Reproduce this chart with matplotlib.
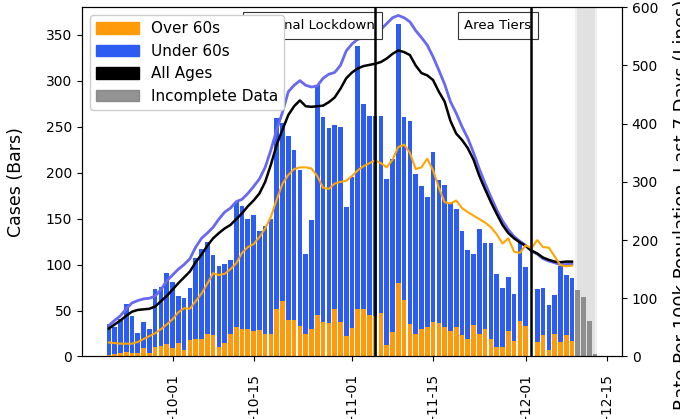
import numpy as np
import pandas as pd
import matplotlib
matplotlib.use("Agg")
import matplotlib.pyplot as plt
import matplotlib.dates as mdates
from matplotlib.patches import Patch

# daily cases by specimen date, 2020-09-20 .. 2020-12-09 (complete)
dates = pd.date_range("2020-09-20", "2020-12-09")
over60 = [2, 3, 4, 5, 4, 4, 9, 4, 10, 11, 14, 9, 15, 7, 18, 19, 19, 24, 23, 10,
          15, 24, 32, 30, 30, 28, 29, 25, 24, 52, 60, 40, 40, 33, 24, 30, 45, 37, 36, 52,
          38, 22, 31, 52, 52, 45, 44, 47, 13, 27, 80, 62, 35, 24, 30, 32, 37, 36, 32, 28,
          32, 23, 19, 34, 25, 30, 19, 10, 10, 28, 17, 39, 33, 0, 16, 23, 7, 25, 16, 23,
          17]
under60 = [33, 29, 37, 52, 40, 22, 29, 26, 63, 65, 77, 72, 51, 57, 57, 88, 98, 101, 87, 88,
           86, 81, 136, 134, 120, 126, 108, 117, 126, 208, 194, 200, 185, 170, 88, 118, 250, 224, 213, 200,
           212, 141, 164, 286, 223, 217, 218, 215, 180, 188, 282, 199, 221, 175, 155, 142, 185, 156, 155, 139,
           128, 114, 97, 78, 114, 93, 105, 80, 65, 59, 51, 86, 64, 0, 57, 52, 49, 42, 82, 66,
           68]

# last days, not yet complete
incomplete_dates = pd.date_range("2020-12-10", "2020-12-13")
incomplete = [72, 65, 39, 3]

# rate per 100k, last 7 days
rate_all = [48, 55, 62, 70, 77, 80, 81, 82, 86, 95, 104, 115, 126, 136, 146, 162, 175, 190, 203, 212,
            220, 226, 236, 246, 258, 268, 280, 300, 330, 364, 390, 415, 430, 440, 430, 429, 430, 431, 437, 445,
            460, 478, 488, 495, 499, 501, 503, 506, 512, 520, 526, 523, 518, 500, 487, 483, 475, 455, 438, 405,
            383, 372, 358, 338, 310, 287, 265, 245, 226, 212, 203, 196, 190, 182, 177, 170, 166, 163, 162, 163,
            163]
rate_under60 = [53, 62, 70, 82, 92, 96, 99, 100, 104, 115, 130, 140, 150, 158, 168, 188, 203, 212, 222, 236,
                248, 255, 266, 270, 280, 292, 305, 325, 355, 390, 420, 455, 466, 474, 466, 463, 465, 478, 485, 488,
                500, 525, 537, 545, 548, 551, 555, 562, 572, 582, 586, 582, 575, 560, 548, 535, 515, 492, 468, 438,
                418, 395, 375, 350, 322, 297, 274, 252, 233, 218, 206, 198, 191, 181, 176, 168, 164, 161, 158, 158,
                159]
rate_over60 = [24, 23, 22, 22, 22, 25, 30, 35, 40, 47, 55, 64, 76, 83, 82, 95, 108, 125, 143, 140,
               142, 150, 160, 178, 188, 193, 205, 220, 240, 270, 297, 312, 322, 325, 325, 323, 310, 290, 288, 297,
               300, 302, 310, 320, 327, 332, 337, 332, 325, 338, 360, 364, 350, 322, 325, 340, 320, 290, 265, 263,
               268, 255, 248, 242, 236, 230, 222, 210, 194, 203, 180, 178, 191, 186, 200, 188, 187, 172, 157, 155,
               156]

events = {"National Lockdown": "2020-11-05", "Area Tiers": "2020-12-02"}

ORANGE = "#ff9a0a"
BLUE = "#2c5cf2"

fig = plt.figure(figsize=(6.8, 4.19), dpi=100)
ax = fig.add_axes([0.1206, 0.1492, 0.7941, 0.8334])
ax2 = ax.twinx()

start = pd.Timestamp("2020-09-20")
day = lambda k: mdates.date2num(start + pd.Timedelta(days=k))

# incomplete data shading
ax.axvspan(day(80.45), day(84.4), color="grey", alpha=0.12, lw=0, zorder=0)
ax.axvspan(day(80.9), day(83.9), color="grey", alpha=0.12, lw=0, zorder=0)

ax.bar(dates, over60, width=0.8, color=ORANGE, zorder=2)
ax.bar(dates, under60, width=0.8, bottom=over60, color=BLUE, zorder=2)
ax.bar(incomplete_dates, incomplete, width=0.8, color="grey", alpha=0.85, zorder=2)

ax2.plot(dates, rate_under60, color="#6868f0", lw=2)
ax2.plot(dates, rate_all, color="black", lw=1.8)
ax2.plot(dates, rate_over60, color="orange", lw=1.5)

for name, d in events.items():
    ax2.axvline(pd.Timestamp(d), color="black", lw=1.8, zorder=4)
    ax2.text(pd.Timestamp(d), 0.948, name, transform=ax2.get_xaxis_transform(),
             ha="right", va="center", fontsize=9.5, zorder=2,
             bbox=dict(boxstyle="square,pad=0.5", fc="white", ec="#333333", lw=0.8))

ax.set_xlim(day(-4.64), day(88.64))
ax.set_ylim(0, 380)
ax2.set_ylim(0, 600)
ax.set_yticks(range(0, 351, 50))
ax2.set_yticks(range(0, 601, 100))

ax.xaxis.set_major_locator(mdates.DayLocator(bymonthday=[1, 15]))
ax.xaxis.set_major_formatter(mdates.DateFormatter("%Y-%m-%d"))
ax.tick_params(axis="x", rotation=90, labelsize=10, pad=9)
ax.tick_params(axis="y", labelsize=10)
ax2.tick_params(axis="y", labelsize=10)

ax.set_ylabel("Cases (Bars)", fontsize=12.5)
ax2.set_ylabel("Rate Per 100k Population, Last 7 Days (Lines)", fontsize=13)
ax.yaxis.set_label_coords(-0.106, 0.5)
ax2.yaxis.set_label_coords(1.095, 0.435)

handles = [Patch(color=ORANGE, label="Over 60s"),
           Patch(color=BLUE, label="Under 60s"),
           Patch(color="black", label="All Ages"),
           Patch(color="grey", alpha=0.85, label="Incomplete Data")]
leg = ax2.legend(handles=handles, loc="upper left", fontsize=11,
                 handlelength=2.8, handleheight=0.8, framealpha=1.0)
leg.set_zorder(10)

fig.savefig("out.png", dpi=100)
